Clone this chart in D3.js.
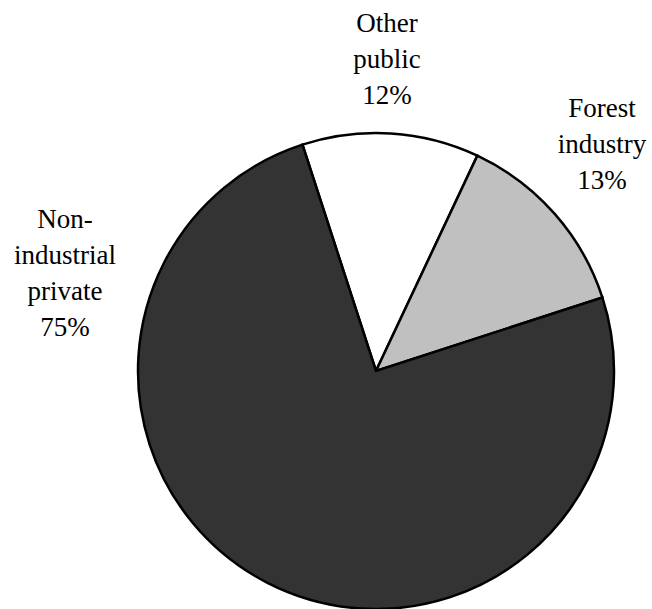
<!DOCTYPE html>
<html>
<head>
<meta charset="utf-8">
<script src="https://cdn.jsdelivr.net/npm/d3@7"></script>
<style>
  html, body { margin: 0; padding: 0; background: #fff; }
  svg { display: block; }
</style>
</head>
<body>
<svg id="chart" width="652" height="609"></svg>
<script>
const categories = ["Other public", "Forest industry", "Non-industrial private"];
const values = [12, 13, 75];
const colors = ["#ffffff", "#c0c0c0", "#333333"];
const labelLines = [["Other", "public", "12%"], ["Forest", "industry", "13%"], ["Non-", "industrial", "private", "75%"]];
const labelPos = [[387, 31.5], [602, 117], [65, 228]];

const cx = 376, cy = 371, R = 238;
const startDeg = -18;
const FONT = "'Liberation Serif', Tinos, 'Times New Roman', Times, serif";

const svg = d3.select("#chart");
const data = categories.map((c, i) => ({ name: c, value: values[i], color: colors[i], lines: labelLines[i], pos: labelPos[i] }));

const pie = d3.pie().value(d => d.value).sort(null)
  .startAngle(startDeg * Math.PI / 180)
  .endAngle(startDeg * Math.PI / 180 + 2 * Math.PI);
const arc = d3.arc().innerRadius(0).outerRadius(R);

const g = svg.append("g").attr("transform", `translate(${cx},${cy})`);
g.selectAll("path").data(pie(data)).join("path")
  .attr("d", arc)
  .attr("fill", d => d.data.color)
  .attr("stroke", "#000")
  .attr("stroke-width", 2.5)
  .attr("stroke-linejoin", "miter");

const lineH = 36;
data.forEach(d => {
  const t = svg.append("text")
    .attr("text-anchor", "middle")
    .style("font-family", FONT)
    .attr("fill", "#000")
    .attr("font-size", 27);
  d.lines.forEach((ln, j) => {
    t.append("tspan").attr("x", d.pos[0]).attr("y", d.pos[1] + j * lineH).text(ln);
  });
});
</script>
</body>
</html>
